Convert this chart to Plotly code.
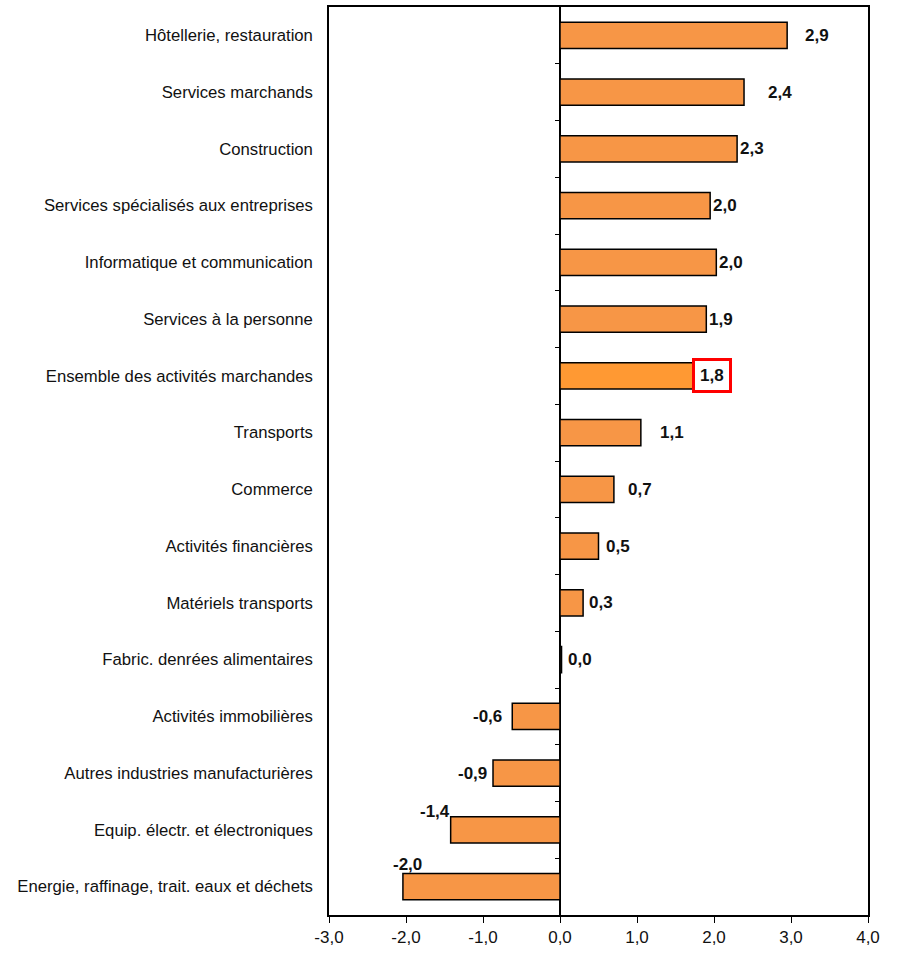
import plotly.graph_objects as go

# Secteurs, du haut vers le bas
categories = [
    "Hôtellerie, restauration",
    "Services marchands",
    "Construction",
    "Services spécialisés aux entreprises",
    "Informatique et communication",
    "Services à la personne",
    "Ensemble des activités marchandes",
    "Transports",
    "Commerce",
    "Activités financières",
    "Matériels transports",
    "Fabric. denrées alimentaires",
    "Activités immobilières",
    "Autres industries manufacturières",
    "Equip. électr. et électroniques",
    "Energie, raffinage, trait. eaux et déchets",
]
values = [2.95, 2.39, 2.30, 1.95, 2.03, 1.90, 1.78, 1.05, 0.70, 0.50, 0.30, 0.02,
          -0.62, -0.87, -1.42, -2.04]
value_labels = ["2,9", "2,4", "2,3", "2,0", "2,0", "1,9", "1,8", "1,1", "0,7", "0,5",
                "0,3", "0,0", "-0,6", "-0,9", "-1,4", "-2,0"]
x_ticks = [-3, -2, -1, 0, 1, 2, 3, 4]
x_tick_labels = ["-3,0", "-2,0", "-1,0", "0,0", "1,0", "2,0", "3,0", "4,0"]
highlight = "Ensemble des activités marchandes"

# label offsets in pixels (xshift, yshift), as the labels were placed in the original
label_shift = [(16, 0), (22, 0), (1, 0), (1, 0), (1, 0), (1, 0), (-5, 0),
               (17, 0), (12, 0), (5, 0), (4, 0), (4, 0),
               (-8, 0), (-4, 0), (1, 18), (21, 22)]

FONT = "Liberation Sans, Arial, sans-serif"
ORANGE = "#F79646"
ORANGE_HI = "#FF9933"

colors = [ORANGE_HI if c == highlight else ORANGE for c in categories]

fig = go.Figure()
fig.add_trace(
    go.Bar(
        x=values,
        y=categories,
        orientation="h",
        width=0.46,
        marker={"color": colors, "line": {"color": "black", "width": 1.5}},
        showlegend=False,
        hoverinfo="skip",
    )
)
# empty trace so the zero-line tick axis is drawn
fig.add_trace(go.Scatter(x=[], y=[], yaxis="y2", showlegend=False, hoverinfo="skip"))

for cat, v, lab, (dx, dy) in zip(categories, values, value_labels, label_shift):
    ann = dict(
        x=v,
        y=cat,
        text=f"<b>{lab}</b>",
        showarrow=False,
        xanchor="right" if v < 0 else "left",
        xshift=dx,
        yshift=dy,
        font={"family": FONT, "size": 17, "color": "#111"},
    )
    if cat == highlight:
        ann.update(bgcolor="white", bordercolor="#FF0000", borderwidth=3, borderpad=5)
    fig.add_annotation(**ann)

fig.update_layout(
    width=900,
    height=954,
    margin={"l": 329, "r": 32, "t": 5, "b": 39},
    plot_bgcolor="white",
    paper_bgcolor="white",
    font={"family": FONT, "size": 17, "color": "#111"},
    xaxis={
        "range": [-3, 4],
        "tickvals": x_ticks,
        "ticktext": x_tick_labels,
        "ticks": "outside",
        "ticklen": 6,
        "tickcolor": "black",
        "showgrid": False,
        "zeroline": True,
        "zerolinecolor": "black",
        "zerolinewidth": 1.5,
        "showline": True,
        "linecolor": "black",
        "linewidth": 1.5,
        "mirror": True,
    },
    yaxis={
        "categoryorder": "array",
        "categoryarray": categories,
        "range": [15.5, -0.5],
        "ticks": "",
        "showgrid": False,
        "showline": True,
        "linecolor": "black",
        "linewidth": 1.5,
        "mirror": True,
        "ticklabelstandoff": 11,
        "tickfont": {"size": 16.7},
    },
    yaxis2={
        "overlaying": "y",
        "anchor": "free",
        "position": 3 / 7,
        "range": [15.5, -0.5],
        "tickvals": [i + 0.5 for i in range(len(categories) - 1)],
        "ticks": "outside",
        "ticklen": 5,
        "tickcolor": "black",
        "showticklabels": False,
        "showgrid": False,
        "zeroline": False,
        "showline": False,
    },
)

# page without the browser's default body margin, so the chart sits at 0,0
fig.write_html(
    "out.html",
    config={"displayModeBar": False},
    post_script="document.body.style.margin = '0';",
)
